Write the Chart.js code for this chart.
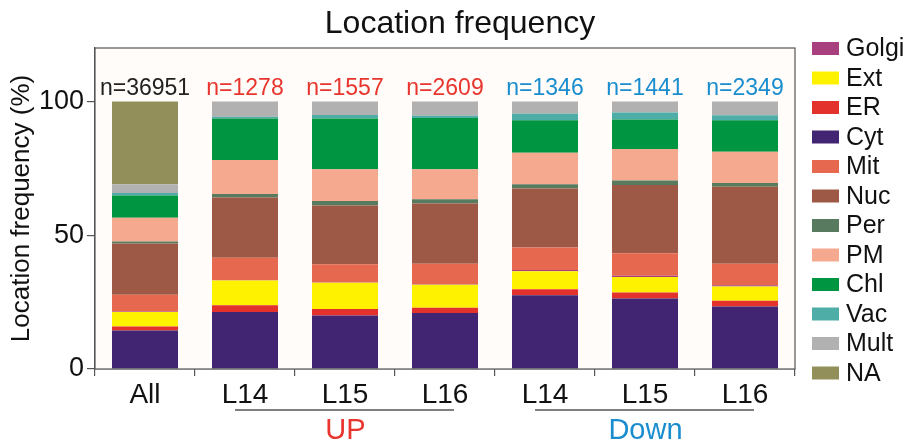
<!DOCTYPE html>
<html lang="en">
<head>
  <meta charset="utf-8">
  <title>Location frequency</title>
  <script src="https://cdn.jsdelivr.net/npm/chart.js@4/dist/chart.umd.min.js"></script>
  <style>
    html, body { margin: 0; padding: 0; background: #fff; }
    #wrap { width: 911px; height: 445px; }
  </style>
</head>
<body>
  <div id="wrap"><canvas id="myChart" width="911" height="445"></canvas></div>
  <script>
    // categories and group info
    var labels = ['All', 'L14', 'L15', 'L16', 'L14', 'L15', 'L16'];
    var counts = [36951, 1278, 1557, 2609, 1346, 1441, 2349];
    var countColors = ['#222222', '#e8352e', '#e8352e', '#e8352e', '#1a8dcf', '#1a8dcf', '#1a8dcf'];
    var groupNames = ['UP', 'Down'];
    var groupFrom = [1, 4];
    var groupTo = [3, 6];
    var groupColors = ['#e8352e', '#1a8dcf'];
    var yTicks = [0, 50, 100];

    // percentages, bottom of stack first
    var cyt   = [14.4, 21.3, 20.0, 20.9, 27.6, 26.4, 23.4];
    var er    = [1.5, 2.5, 2.4, 2.0, 2.2, 2.2, 2.1];
    var ext   = [5.4, 9.3, 9.8, 8.6, 6.7, 5.8, 5.3];
    var golgi = [0.2, 0.1, 0.1, 0.2, 0.5, 0.5, 0.5];
    var mit   = [6.3, 8.4, 6.9, 7.6, 8.4, 8.4, 8.0];
    var nuc   = [19.1, 22.5, 21.9, 22.6, 22.1, 25.5, 28.8];
    var per   = [0.8, 1.3, 1.7, 1.6, 1.6, 1.7, 1.4];
    var pm    = [8.8, 12.7, 11.9, 11.2, 11.7, 11.7, 11.7];
    var chl   = [8.4, 15.5, 18.9, 19.1, 12.2, 11.1, 11.8];
    var vac   = [0.9, 0.7, 1.4, 0.9, 2.4, 2.6, 1.9];
    var mult  = [3.3, 5.7, 5.0, 5.3, 4.6, 4.1, 5.1];
    var na    = [30.9, 0, 0, 0, 0, 0, 0];

    var legendOrder = ['Golgi', 'Ext', 'ER', 'Cyt', 'Mit', 'Nuc', 'Per', 'PM', 'Chl', 'Vac', 'Mult', 'NA'];

    var FONT = "'Liberation Sans', Arial, sans-serif";

    function ds(name, data, color) {
      return { label: name, data: data, backgroundColor: color, borderWidth: 0, stack: 's' };
    }

    var datasets = [
      ds('Cyt', cyt, '#412573'),
      ds('ER', er, '#e3322b'),
      ds('Ext', ext, '#fff200'),
      ds('Golgi', golgi, '#a8407f'),
      ds('Mit', mit, '#e6684f'),
      ds('Nuc', nuc, '#9e5946'),
      ds('Per', per, '#587a5e'),
      ds('PM', pm, '#f5a98e'),
      ds('Chl', chl, '#009541'),
      ds('Vac', vac, '#4fada8'),
      ds('Mult', mult, '#b1b1b1'),
      ds('NA', na, '#938f5a')
    ];

    // title, frame, n= labels, group brackets and legend
    var extras = {
      id: 'extras',
      beforeDatasetsDraw: function(chart) {
        var a = chart.chartArea, ctx = chart.ctx;
        ctx.save();
        ctx.fillStyle = '#fffcf9';
        ctx.fillRect(a.left, a.top, a.right - a.left, a.bottom - a.top);
        ctx.restore();
      },
      afterDraw: function(chart) {
        var a = chart.chartArea, ctx = chart.ctx;
        var x = chart.scales.x, y = chart.scales.y;
        ctx.save();
        ctx.strokeStyle = '#555';
        ctx.lineWidth = 1.2;
        ctx.strokeRect(a.left, a.top, a.right - a.left, a.bottom - a.top);

        ctx.textAlign = 'center';
        ctx.textBaseline = 'middle';
        ctx.fillStyle = '#111';
        ctx.font = '32px ' + FONT;
        ctx.fillText('Location frequency', 460, 24);

        ctx.font = '23px ' + FONT;
        var top = y.getPixelForValue(100);
        counts.forEach(function(n, i) {
          ctx.fillStyle = countColors[i];
          ctx.fillText('n=' + n, x.getPixelForValue(i), top - 13);
        });

        groupNames.forEach(function(g, k) {
          var x0 = x.getPixelForValue(groupFrom[k]) - 10;
          var x1 = x.getPixelForValue(groupTo[k]) + 9;
          ctx.strokeStyle = '#555';
          ctx.lineWidth = 1.5;
          ctx.beginPath();
          ctx.moveTo(x0, 410);
          ctx.lineTo(x1, 410);
          ctx.stroke();
          ctx.fillStyle = groupColors[k];
          ctx.font = '29px ' + FONT;
          ctx.fillText(g, (x0 + x1) / 2 + 1, 431);
        });

        ctx.textAlign = 'left';
        ctx.font = '25px ' + FONT;
        legendOrder.forEach(function(name, i) {
          var d = chart.data.datasets.find(function(s) { return s.label === name; });
          var cy = 48.5 + i * 29.5;
          ctx.fillStyle = d.backgroundColor;
          ctx.fillRect(812, cy - 6.5, 27, 13);
          ctx.fillStyle = '#111';
          ctx.fillText(name, 846, cy + 1);
        });
        ctx.restore();
      }
    };

    var ctx = document.getElementById('myChart').getContext('2d');
    var chart = new Chart(ctx, {
      type: 'bar',
      data: { labels: labels, datasets: datasets },
      options: {
        responsive: false,
        animation: false,
        layout: { padding: { left: 0, right: 116, top: 48, bottom: 0 } },
        datasets: { bar: { barPercentage: 0.66, categoryPercentage: 1 } },
        plugins: {
          legend: { display: false },
          tooltip: { enabled: false },
          title: { display: false }
        },
        scales: {
          x: {
            stacked: true,
            afterFit: function(s) { s.height = 76; },
            grid: { drawOnChartArea: false, tickLength: 7, color: '#555', lineWidth: 1.2 },
            border: { display: true, color: '#555', width: 1.2 },
            ticks: { color: '#111', padding: 2, font: { family: FONT, size: 28 } }
          },
          y: {
            stacked: true,
            min: 0,
            max: 120,
            afterFit: function(s) { s.width = 95; },
            afterBuildTicks: function(s) {
              s.ticks = yTicks.map(function(v) { return { value: v }; });
            },
            grid: { drawOnChartArea: false, tickLength: 8, color: '#555', lineWidth: 1.2 },
            border: { display: true, color: '#555', width: 1.2 },
            ticks: { color: '#111', padding: 3, font: { family: FONT, size: 27 } },
            title: {
              display: true,
              text: 'Location frequency (%)',
              color: '#111',
              font: { family: FONT, size: 26 },
              padding: { top: 6, bottom: 0 }
            }
          }
        }
      },
      plugins: [extras]
    });
  </script>
</body>
</html>
